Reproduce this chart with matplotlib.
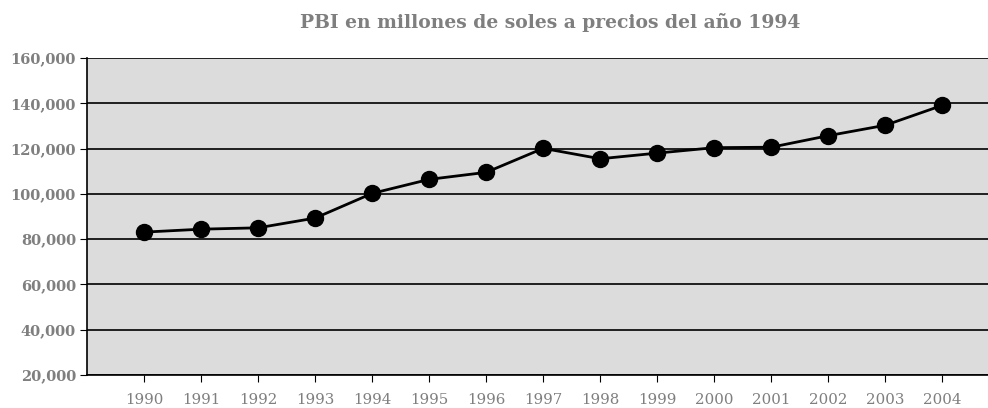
import matplotlib
matplotlib.use("Agg")
import matplotlib.pyplot as plt
from matplotlib.ticker import FuncFormatter

years = [1990, 1991, 1992, 1993, 1994, 1995, 1996, 1997, 1998, 1999,
         2000, 2001, 2002, 2003, 2004]
pbi = [83100, 84400, 85000, 89300, 100200, 106400, 109500, 120100,
       115500, 118000, 120400, 120600, 125700, 130300, 139100]

gris = "#7f7f7f"
plt.rcParams["font.family"] = "DejaVu Serif"

fig = plt.figure(figsize=(9.88, 4.08), dpi=100)
ax = fig.add_axes([87 / 988, 33 / 408, (988 - 87) / 988, (375 - 58) / 408])
ax.set_facecolor("#dcdcdc")

ax.plot(years, pbi, color="black", lw=2, marker="o", ms=11.5, zorder=3)

ax.set_ylim(20000, 160000)
ax.set_yticks(range(20000, 160001, 20000))
ax.yaxis.set_major_formatter(FuncFormatter(lambda v, p: "{:,.0f}".format(v)))
ax.set_xlim(1989, 2004.8)
ax.set_xticks(years)
ax.grid(axis="y", color="black", lw=1.2)
ax.set_axisbelow(True)

for s in ["top", "right"]:
    ax.spines[s].set_visible(False)
for s in ["left", "bottom"]:
    ax.spines[s].set_color("black")
    ax.spines[s].set_linewidth(1.2)

ax.tick_params(axis="y", length=5, color="black", labelsize=10.5, labelcolor=gris, pad=3)
ax.tick_params(axis="x", length=5, color="black", labelsize=10.8, labelcolor=gris, pad=8)
for t in ax.get_yticklabels():
    t.set_fontweight("bold")

fig.text(550 / 988, 1 - 22 / 408, "PBI en millones de soles a precios del año 1994",
         ha="center", va="center", fontsize=13.5, fontweight="bold", color=gris)

fig.savefig("out.png", dpi=100)
